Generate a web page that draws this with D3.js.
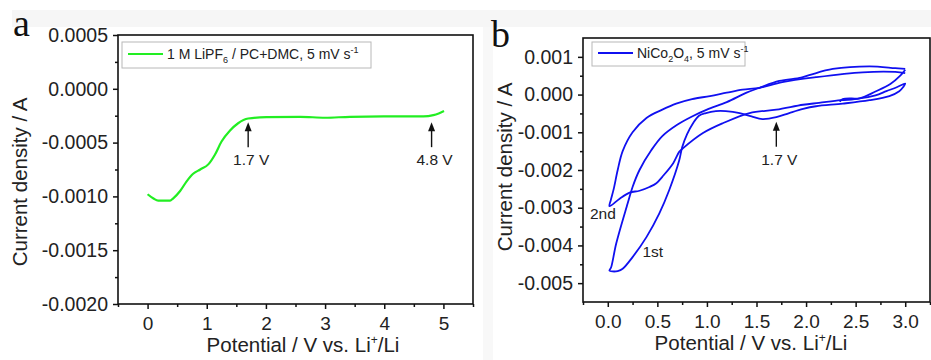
<!DOCTYPE html>
<html>
<head>
<meta charset="utf-8">
<script src="https://cdn.jsdelivr.net/npm/d3@7"></script>
<style>
    html, body { margin: 0; padding: 0; background: #fff; }
    svg { display: block; font-family: "Liberation Sans", Arial, sans-serif; }
</style>
</head>
<body>
<svg id="chart" width="931" height="360"></svg>
<script>
    'use strict';

    // panel a: linear sweep of the blank electrolyte
    const sweepPotential = [0, 0.1, 0.18, 0.38, 0.43, 0.55, 0.66, 0.77, 0.89, 1.03, 1.14, 1.25, 1.39, 1.53, 1.70, 2.01, 2.58, 3.0, 3.42, 3.99, 4.66, 4.83, 4.92, 5.01];
    const sweepCurrent = [-0.00098, -0.00102, -0.00104, -0.00104, -0.00102, -0.00095, -0.00086, -0.00079, -0.00075, -0.0007, -0.00061, -0.00049, -0.00039, -0.00032, -0.000276, -0.000263, -0.00026, -0.000269, -0.00026, -0.000257, -0.000257, -0.000245, -0.000229, -0.000207];

    // panel b: NiCo2O4 cyclic voltammogram, first scan (OCV -> 3 V -> 0 V -> 3 V)
    const scan1Potential = [2.34, 2.37, 2.54, 2.7, 2.81, 2.92, 3.0,
        2.98, 2.94, 2.84, 2.64, 2.37, 2.10, 1.97, 1.83, 1.70, 1.56, 1.45, 1.33, 1.19, 1.09, 0.99, 0.92, 0.86, 0.80, 0.75, 0.72, 0.62, 0.52, 0.39, 0.25, 0.15, 0.10, 0.05, 0.017,
        0.034, 0.085, 0.2, 0.25, 0.32, 0.44, 0.55, 0.7, 0.85, 1.0, 1.2, 1.4, 1.53, 1.73, 1.95, 2.05, 2.27, 2.64, 2.9, 3.0];
    const scan1Current = [-0.00019, -0.00012, -0.0001, -0.00002, 0.00009, 0.0002, 0.00029,
        0.0002, 0.00009, -0.00004, -0.00015, -0.00024, -0.00031, -0.00038, -0.00049, -0.0006, -0.00065, -0.00058, -0.00049, -0.00044, -0.00044, -0.00049, -0.00056, -0.00076, -0.00105, -0.0014, -0.00175, -0.00253, -0.00315, -0.00378, -0.00431, -0.00462, -0.00468, -0.00469, -0.00467,
        -0.00458, -0.00395, -0.00289, -0.00245, -0.002, -0.00147, -0.0011, -0.0008, -0.00058, -0.0004, -0.0002, 0.00005, 0.00018, 0.00036, 0.00045, 0.00053, 0.00068, 0.00075, 0.0007, 0.00068];

    // second scan (3 V -> 0 V -> 3 V)
    const scan2Potential = [3.0, 2.95, 2.85, 2.7, 2.54, 2.35, 2.13, 1.97, 1.70, 1.43, 1.16, 0.96, 0.76, 0.72, 0.66, 0.55, 0.49, 0.42, 0.32, 0.22, 0.12, 0.017,
        0.03, 0.06, 0.1, 0.15, 0.25, 0.39, 0.55, 0.69, 0.85, 1.03, 1.2, 1.36, 1.53, 1.76, 2.1, 2.57, 2.9, 3.0];
    const scan2Current = [0.00066, 0.0005, 0.00028, 0.00008, -0.0001, -0.00015, -0.00022, -0.00027, -0.0004, -0.00049, -0.00076, -0.00102, -0.00142, -0.00152, -0.00182, -0.00218, -0.00235, -0.00245, -0.00255, -0.0026, -0.00276, -0.00296,
        -0.0028, -0.0025, -0.002, -0.0015, -0.001, -0.00062, -0.0004, -0.00024, -0.00012, -0.00004, 0.00005, 0.00013, 0.00018, 0.00033, 0.00046, 0.00059, 0.0006, 0.00057];

    // ticks
    const xTicksA = [0, 1, 2, 3, 4, 5];
    const yTicksA = [0.0005, 0, -0.0005, -0.001, -0.0015, -0.002];
    const xTicksB = [0, 0.5, 1.0, 1.5, 2.0, 2.5, 3.0];
    const yTicksB = [0.001, 0, -0.001, -0.002, -0.003, -0.004, -0.005];

    // annotations: [potential, arrow tip current, label]
    const arrowsA = [[1.7, -0.00031, '1.7 V'], [4.8, -0.00031, '4.8 V']];
    const arrowsB = [[1.7, -0.00072, '1.7 V']];
    const cycleLabels = [[-0.18, -0.0033, '2nd'], [0.35, -0.0043, '1st']];

    const svg = d3.select('#chart');

    // light grey strips of the original figure
    svg.append('rect').attr('x', 12).attr('y', 10).attr('width', 919).attr('height', 17).attr('fill', '#f6f6f6');
    svg.append('rect').attr('x', 483).attr('y', 27).attr('width', 10).attr('height', 333).attr('fill', '#f8f8f8');

    function fmtFixed(n) {
        return (d) => d.toFixed(n).replace('-0.' + '0'.repeat(n), '0.' + '0'.repeat(n));
    }

    function panel(cfg) {
        const x = d3.scaleLinear().domain(cfg.xDomain).range([cfg.left, cfg.right]);
        const y = d3.scaleLinear().domain(cfg.yDomain).range([cfg.bottom, cfg.top]);
        const g = svg.append('g');

        const xMinor = d3.range(cfg.xDomain[0], cfg.xDomain[1] + 1e-9, cfg.xStep / 2)
            .filter((v) => Math.abs(v / cfg.xStep - Math.round(v / cfg.xStep)) > 1e-6);
        const yMinor = d3.range(cfg.yTicks[cfg.yTicks.length - 1], cfg.yTicks[0] + 1e-12, cfg.yStep / 2)
            .filter((v) => Math.abs(v / cfg.yStep - Math.round(v / cfg.yStep)) > 1e-6);

        const xa = g.append('g')
            .attr('transform', `translate(0, ${cfg.bottom})`)
            .call(d3.axisBottom(x).tickValues(cfg.xTicks).tickSize(5).tickPadding(8).tickFormat(cfg.xFormat));
        g.append('g')
            .attr('transform', `translate(0, ${cfg.bottom})`)
            .call(d3.axisBottom(x).tickValues(xMinor).tickSize(3).tickFormat(''));
        const ya = g.append('g')
            .attr('transform', `translate(${cfg.left}, 0)`)
            .call(d3.axisLeft(y).tickValues(cfg.yTicks).tickSize(5).tickPadding(5).tickFormat(cfg.yFormat));
        g.append('g')
            .attr('transform', `translate(${cfg.left}, 0)`)
            .call(d3.axisLeft(y).tickValues(yMinor).tickSize(3).tickFormat(''));

        g.selectAll('.domain').remove();
        g.selectAll('.tick line').attr('stroke', '#111').attr('stroke-width', 1.5);
        xa.selectAll('text').attr('font-size', 19).attr('fill', '#222')
            .attr('font-family', '"Liberation Sans", Arial, sans-serif');
        ya.selectAll('text').attr('font-size', 19.5).attr('fill', '#222')
            .attr('font-family', '"Liberation Sans", Arial, sans-serif');

        g.append('rect')
            .attr('x', cfg.left).attr('y', cfg.top)
            .attr('width', cfg.right - cfg.left).attr('height', cfg.bottom - cfg.top)
            .attr('fill', 'none').attr('stroke', '#111').attr('stroke-width', 1.6);

        // axis titles
        const xt = g.append('text')
            .attr('x', cfg.xTitleX).attr('y', cfg.xTitleY)
            .attr('text-anchor', 'middle').attr('font-size', 20.5).attr('fill', '#222');
        xt.append('tspan').text('Potential / V vs. Li');
        xt.append('tspan').attr('dy', -8).attr('font-size', 12).text('+');
        xt.append('tspan').attr('dy', 8).text('/Li');

        g.append('text')
            .attr('transform', `translate(${cfg.yTitleX}, ${cfg.yTitleY}) rotate(-90)`)
            .attr('text-anchor', 'middle').attr('font-size', 20.5).attr('fill', '#222')
            .text('Current density / A');

        // panel letter
        g.append('text')
            .attr('x', cfg.letterX).attr('y', cfg.letterY)
            .attr('font-family', '"Liberation Serif", "Times New Roman", serif')
            .attr('font-size', 38).attr('fill', '#111')
            .text(cfg.letter);

        return { g, x, y };
    }

    function arrow(g, x, y, d) {
        const px = x(d[0]);
        const tip = y(d[1]);
        g.append('line')
            .attr('x1', px).attr('x2', px)
            .attr('y1', tip + 6).attr('y2', tip + 25)
            .attr('stroke', '#111').attr('stroke-width', 1.4);
        g.append('path')
            .attr('d', `M${px},${tip} L${px - 3.5},${tip + 9} L${px + 3.5},${tip + 9} Z`)
            .attr('fill', '#111');
        g.append('text')
            .attr('x', px + 3).attr('y', tip + 43)
            .attr('text-anchor', 'middle').attr('font-size', 15.5).attr('fill', '#222')
            .text(d[2]);
    }

    function legend(g, box, color, parts) {
        g.append('rect')
            .attr('x', box[0]).attr('y', box[1]).attr('width', box[2]).attr('height', box[3])
            .attr('fill', '#fff').attr('stroke', '#b8b8b8').attr('stroke-width', 1);
        const ly = box[1] + box[3] / 2 - 1;
        g.append('line')
            .attr('x1', box[0] + 6).attr('x2', box[0] + 41)
            .attr('y1', ly).attr('y2', ly)
            .attr('stroke', color).attr('stroke-width', 2.2);
        const t = g.append('text')
            .attr('x', box[0] + 45).attr('y', ly + 5)
            .attr('font-size', 14).attr('fill', '#222');
        let shift = 0;
        parts.forEach((p) => {
            const dy = (p[1] === 'sub' ? 4 : p[1] === 'sup' ? -6 : 0);
            t.append('tspan')
                .attr('dy', dy - shift)
                .attr('font-size', p[1] ? 9 : 14)
                .text(p[0]);
            shift = dy;
        });
    }

    // ---- panel a ----
    const a = panel({
        left: 118, right: 473, top: 35, bottom: 304,
        xDomain: [-0.5, 5.5], yDomain: [-0.002, 0.0005],
        xTicks: xTicksA, yTicks: yTicksA, xStep: 1, yStep: 0.0005,
        xFormat: d3.format('d'), yFormat: fmtFixed(4),
        xTitleX: 303, xTitleY: 352, yTitleX: 27, yTitleY: 182,
        letter: 'a', letterX: 13, letterY: 36
    });

    const sweepLine = d3.line()
        .x((d, i) => a.x(sweepPotential[i]))
        .y((d, i) => a.y(sweepCurrent[i]))
        .curve(d3.curveMonotoneX);
    a.g.append('path')
        .attr('d', sweepLine(sweepPotential))
        .attr('fill', 'none').attr('stroke', '#22ee22').attr('stroke-width', 2.2);

    arrowsA.forEach((d) => arrow(a.g, a.x, a.y, d));
    legend(a.g, [122, 42, 249, 26], '#22ee22',
        [['1 M LiPF'], ['6', 'sub'], [' / PC+DMC, 5 mV s'], ['-1', 'sup']]);

    // ---- panel b ----
    const b = panel({
        left: 583, right: 930, top: 38, bottom: 302,
        xDomain: [-0.25, 3.25], yDomain: [-0.0055, 0.0015],
        xTicks: xTicksB, yTicks: yTicksB, xStep: 0.5, yStep: 0.001,
        xFormat: d3.format('.1f'), yFormat: fmtFixed(3),
        xTitleX: 751, xTitleY: 350, yTitleX: 512, yTitleY: 167,
        letter: 'b', letterX: 491, letterY: 47
    });

    const cv = (pot, cur) => d3.line()
        .x((d, i) => b.x(pot[i]))
        .y((d, i) => b.y(cur[i]))
        .curve(d3.curveCatmullRom.alpha(0.5))(pot);

    [[scan1Potential, scan1Current], [scan2Potential, scan2Current]].forEach((s) => {
        b.g.append('path')
            .attr('d', cv(s[0], s[1]))
            .attr('fill', 'none').attr('stroke', '#1010f0').attr('stroke-width', 1.8)
            .attr('stroke-linejoin', 'round');
    });

    arrowsB.forEach((d) => arrow(b.g, b.x, b.y, d));
    cycleLabels.forEach((d) => {
        b.g.append('text')
            .attr('x', b.x(d[0])).attr('y', b.y(d[1]))
            .attr('font-size', 15.5).attr('fill', '#222')
            .text(d[2]);
    });
    legend(b.g, [592, 42, 153, 24], '#1010f0',
        [['NiCo'], ['2', 'sub'], ['O'], ['4', 'sub'], [', 5 mV s'], ['-1', 'sup']]);
</script>
</body>
</html>
